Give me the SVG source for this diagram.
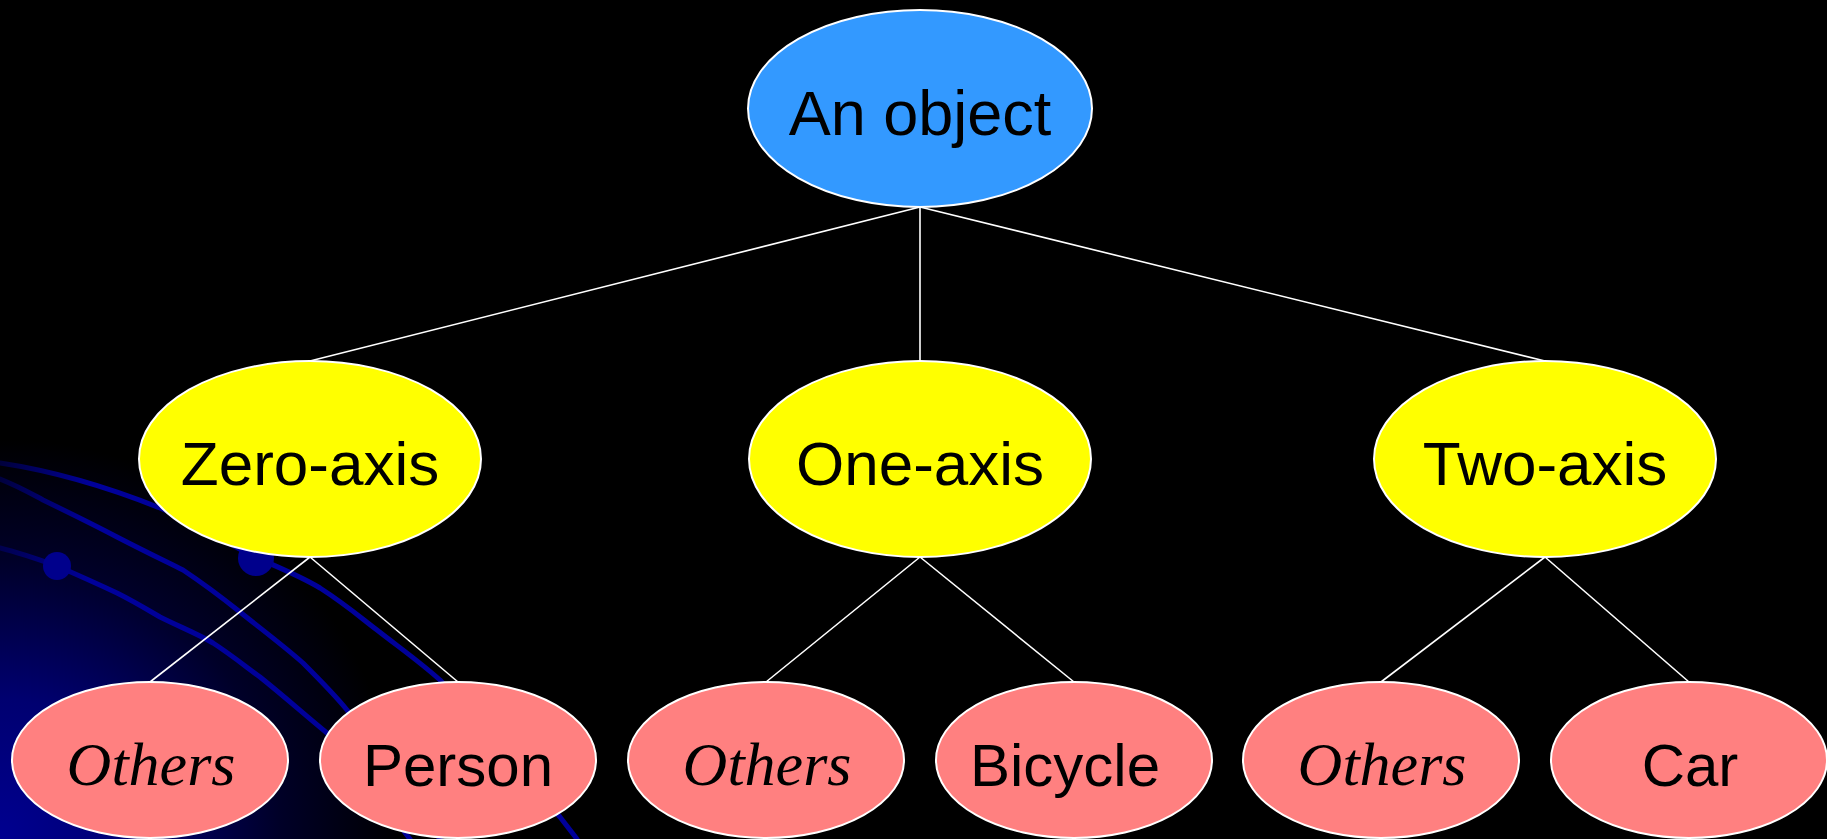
<svg xmlns="http://www.w3.org/2000/svg" width="1827" height="839" viewBox="0 0 1827 839">
  <defs>
    <radialGradient id="glow" cx="0" cy="839" r="400" gradientUnits="userSpaceOnUse">
      <stop offset="0" stop-color="#000090"/>
      <stop offset="0.35" stop-color="#000070"/>
      <stop offset="0.7" stop-color="#000028"/>
      <stop offset="1" stop-color="#000000"/>
    </radialGradient>
    <linearGradient id="fadeL" x1="0" y1="0" x2="90" y2="0" gradientUnits="userSpaceOnUse">
      <stop offset="0" stop-color="#00009a" stop-opacity="0.35"/>
      <stop offset="1" stop-color="#00009a"/>
    </linearGradient>
    <style>
      .bgline { fill: none; stroke: url(#fadeL); stroke-width: 5; stroke-linejoin: round; stroke-linecap: round; }
      .dot { fill: #00008c; }
      .node ellipse { stroke: #ffffff; stroke-width: 2; }
      .root { fill: #3399ff; }
      .mid { fill: #ffff00; }
      .leaf { fill: #ff8080; }
      .sans { font-family: "Liberation Sans", Arial, sans-serif; fill: #000000; text-anchor: middle; }
      .serif { font-family: "Liberation Serif", "Times New Roman", serif; font-style: italic; fill: #000000; text-anchor: middle; font-size: 62px; }
      .conn line { stroke: #ffffff; stroke-width: 1.6; }
    </style>
  </defs>

  <rect x="0" y="0" width="1827" height="839" fill="#000000"/>
  <rect x="0" y="0" width="1827" height="839" fill="url(#glow)"/>

  <g id="background-decoration">
    <path class="bgline" d="M0,463 C40,469 90,480 160,508 C200,525 230,545 257,558 C280,568 300,576 320,588 C345,604 360,617 377,630 C400,648 420,662 440,680 L560,817 L577,839"/>
    <path class="bgline" d="M0,479 C20,487 30,493 43,500 C80,518 100,528 117,537 C150,554 165,561 183,570 C210,588 225,600 240,612 C265,632 285,647 303,663 C320,680 335,695 347,710 L440,839"/>
    <path class="bgline" d="M0,548 C20,553 40,560 57,566 C80,576 100,585 117,593 C135,602 148,610 160,617 C180,627 198,634 213,643 C230,654 245,666 260,677 C285,697 305,715 327,733 L410,839"/>
    <circle class="dot" cx="57" cy="566" r="14"/>
    <circle class="dot" cx="256" cy="558" r="18"/>
  </g>

  <g id="connectors" class="conn">
    <line x1="920" y1="207" x2="310" y2="361"/>
    <line x1="920" y1="207" x2="920" y2="361"/>
    <line x1="920" y1="207" x2="1545" y2="361"/>
    <line x1="310" y1="557" x2="150" y2="682"/>
    <line x1="310" y1="557" x2="458" y2="682"/>
    <line x1="920" y1="557" x2="766" y2="682"/>
    <line x1="920" y1="557" x2="1074" y2="682"/>
    <line x1="1545" y1="557" x2="1381" y2="682"/>
    <line x1="1545" y1="557" x2="1689" y2="682"/>
  </g>

  <g id="node-object" class="node">
    <ellipse class="root" cx="920" cy="108.5" rx="172" ry="98.5"/>
    <text class="sans" x="920" y="135" font-size="63">An object</text>
  </g>

  <g id="node-zero-axis" class="node">
    <ellipse class="mid" cx="310" cy="459" rx="171" ry="98"/>
    <text class="sans" x="310" y="485" font-size="62">Zero-axis</text>
  </g>
  <g id="node-one-axis" class="node">
    <ellipse class="mid" cx="920" cy="459" rx="171" ry="98"/>
    <text class="sans" x="920" y="485" font-size="62">One-axis</text>
  </g>
  <g id="node-two-axis" class="node">
    <ellipse class="mid" cx="1545" cy="459" rx="171" ry="98"/>
    <text class="sans" x="1545" y="485" font-size="62">Two-axis</text>
  </g>

  <g id="node-others-1" class="node">
    <ellipse class="leaf" cx="150" cy="760" rx="138" ry="78"/>
    <text class="serif" x="151" y="785">Others</text>
  </g>
  <g id="node-person" class="node">
    <ellipse class="leaf" cx="458" cy="760" rx="138" ry="78"/>
    <text class="sans" x="458" y="786" font-size="60">Person</text>
  </g>
  <g id="node-others-2" class="node">
    <ellipse class="leaf" cx="766" cy="760" rx="138" ry="78"/>
    <text class="serif" x="767" y="785">Others</text>
  </g>
  <g id="node-bicycle" class="node">
    <ellipse class="leaf" cx="1074" cy="760" rx="138" ry="78"/>
    <text class="sans" x="1065" y="786" font-size="60">Bicycle</text>
  </g>
  <g id="node-others-3" class="node">
    <ellipse class="leaf" cx="1381" cy="760" rx="138" ry="78"/>
    <text class="serif" x="1382" y="785">Others</text>
  </g>
  <g id="node-car" class="node">
    <ellipse class="leaf" cx="1689" cy="760" rx="138" ry="78"/>
    <text class="sans" x="1690" y="786" font-size="60">Car</text>
  </g>
</svg>
